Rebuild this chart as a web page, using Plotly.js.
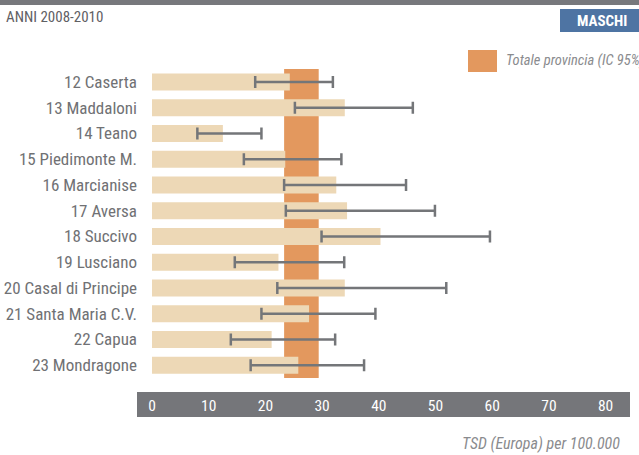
<!DOCTYPE html>
<html>
<head>
<meta charset="utf-8">
<script src="https://cdn.plot.ly/plotly-3.0.1.min.js"></script>
<style>html,body{margin:0;padding:0;background:#fff;overflow:hidden;}#chart{width:639px;height:455px;}</style>
</head>
<body>
<div id="chart"></div>
<script>
const categories = ["12 Caserta","13 Maddaloni","14 Teano","15 Piedimonte M.","16 Marcianise","17 Aversa","18 Succivo","19 Lusciano","20 Casal di Principe","21 Santa Maria C.V.","22 Capua","23 Mondragone"];
const rates = [24.3, 34.0, 12.5, 23.5, 32.5, 34.4, 40.3, 22.3, 34.0, 27.7, 21.1, 25.8];
const lower = [18.2, 25.2, 8.0, 16.2, 23.3, 23.6, 29.9, 14.6, 22.1, 19.3, 13.9, 17.4];
const upper = [31.9, 46.0, 19.3, 33.4, 44.8, 49.9, 59.6, 33.9, 51.9, 39.4, 32.3, 37.4];
const provinceCI = [23.3, 29.4];
const tickValues = [0, 10, 20, 30, 40, 50, 60, 70, 80];

const FONT = '"Roboto Condensed", "DejaVu Sans Condensed", sans-serif';

// pixel helpers for paper coordinates (plot area: x 152..630, y 69..392)
const PL = 152, PW = 478, PB = 392, PH = 323;
const px = v => (v - PL) / PW;
const py = v => (PB - v) / PH;

const trace = {
  type: 'bar',
  orientation: 'h',
  y: categories,
  x: rates,
  width: 0.66,
  marker: {color: '#edd8b6'},
  error_x: {
    type: 'data',
    symmetric: false,
    array: upper.map((u, i) => u - rates[i]),
    arrayminus: lower.map((l, i) => rates[i] - l),
    color: '#747679',
    thickness: 2.5,
    width: 6
  },
  hoverinfo: 'none',
  showlegend: false
};

const layout = {
  width: 639,
  height: 455,
  margin: {l: 152, r: 9, t: 69, b: 63, pad: 0},
  paper_bgcolor: '#ffffff',
  plot_bgcolor: 'rgba(0,0,0,0)',
  font: {family: FONT, color: '#6f7073'},
  xaxis: {
    range: [0, 84.3],
    tickvals: tickValues,
    ticktext: tickValues.map(String),
    showgrid: false,
    zeroline: false,
    showline: false,
    ticks: '',
    tickfont: {family: FONT, size: 15.5, color: '#ffffff'},
    ticklabelstandoff: 2,
    fixedrange: true
  },
  yaxis: {
    type: 'category',
    categoryorder: 'array',
    categoryarray: categories,
    range: [12.04, -0.5],
    showgrid: false,
    zeroline: false,
    showline: false,
    ticks: '',
    tickfont: {family: FONT, size: 17, color: '#707174'},
    ticklabelstandoff: 14,
    fixedrange: true
  },
  shapes: [
    // province CI band
    {type: 'rect', xref: 'x', yref: 'y', x0: provinceCI[0], x1: provinceCI[1], y0: -0.5, y1: 11.5, layer: 'below', line: {width: 0}, fillcolor: '#e3985e'},
    // x-axis band
    {type: 'rect', xref: 'paper', yref: 'paper', x0: px(137), x1: px(630), y0: py(392), y1: py(417), layer: 'below', line: {width: 0}, fillcolor: '#75767a'},
    // legend swatch
    {type: 'rect', xref: 'paper', yref: 'paper', x0: px(468), x1: px(497), y0: py(50), y1: py(72), line: {width: 0}, fillcolor: '#e3985e'},
    // MASCHI box
    {type: 'rect', xref: 'paper', yref: 'paper', x0: px(560), x1: px(640), y0: py(9), y1: py(32), line: {width: 0}, fillcolor: '#4e74a3'},
    // top strip
    {type: 'rect', xref: 'paper', yref: 'paper', x0: px(-1), x1: px(640), y0: py(-1), y1: py(5), line: {width: 0}, fillcolor: '#77787c'}
  ],
  annotations: [
    {text: 'ANNI 2008-2010', xref: 'paper', yref: 'paper', x: px(4), y: py(17), xanchor: 'left', yanchor: 'middle', showarrow: false, font: {family: FONT, size: 15, color: '#5f6064'}},
    {text: '<b>MASCHI</b>', xref: 'paper', yref: 'paper', x: px(602), y: py(21), xanchor: 'center', yanchor: 'middle', showarrow: false, font: {family: FONT, size: 15, color: '#ffffff'}},
    {text: '<i>Totale provincia (IC 95%)</i>', xref: 'paper', yref: 'paper', x: px(504), y: py(61), xanchor: 'left', yanchor: 'middle', showarrow: false, font: {family: FONT, size: 14.5, color: '#8a8b8e'}},
    {text: '<i>TSD (Europa) per 100.000</i>', xref: 'paper', yref: 'paper', x: px(622), y: py(443), xanchor: 'right', yanchor: 'middle', showarrow: false, font: {family: FONT, size: 16, color: '#8a8b8e'}}
  ]
};

Plotly.newPlot('chart', [trace], layout, {staticPlot: true, displayModeBar: false});
</script>
</body>
</html>
